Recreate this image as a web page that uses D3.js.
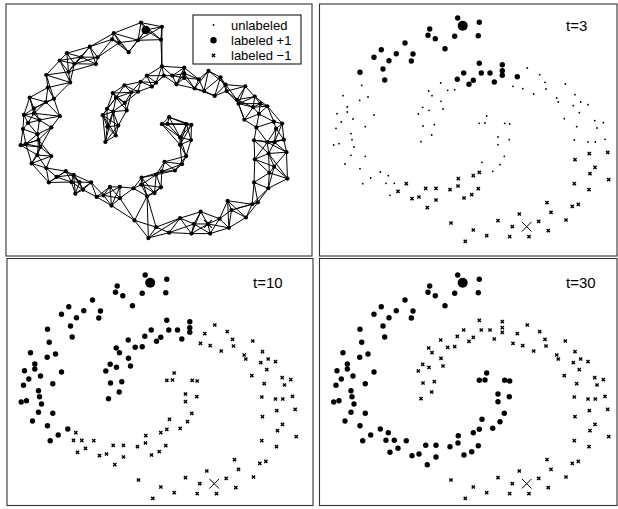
<!DOCTYPE html>
<html>
<head>
<meta charset="utf-8">
<script src="https://cdn.jsdelivr.net/npm/d3@7"></script>
<style>
  body { margin: 0; background: #fff; }
  svg { display: block; font-family: "Liberation Sans", Arial, Helvetica, sans-serif; }
</style>
</head>
<body>
<svg id="chart" width="618" height="509"></svg>
<script>
// two-spiral data
// each row: x, y, label at t=3, label at t=10, label at t=30  (1 = +1, -1 = -1, 0 = unlabeled)
const nodes = [
  [-7.3,105,1,1,1],[-35.3,94,1,1,1],[-37,87.7,1,1,1],[-29.7,84.3,1,1,1],[-10.3,86.7,1,1,1],
  [-60,80,1,1,1],[-20,74.3,1,1,1],[-83.7,73.3,1,1,1],[-52,69,1,1,1],[-68.7,69.3,1,1,1],
  [-91,65.7,1,1,1],[-76,62.3,1,1,1],[-53.7,62,1,1,1],[-82,54,1,1,1],[-105,50.7,1,1,1],
  [-80.3,43,1,1,1],[-103.3,37.7,0,1,1],[-122,27.3,0,1,1],[-97,26,0,1,1],[-105.3,22.7,0,1,1],
  [-117.7,16,0,1,1],[-117.7,11,0,1,1],[-128,9.3,0,1,1],[-91,8,0,1,1],[-112,4,0,1,1],
  [-123.7,1,0,1,1],[-129,-5.3,0,1,1],[-99.7,-3.7,0,1,1],[-114,-10.7,0,1,1],[-113,-16.7,0,1,1],
  [-126,-20.7,0,1,1],[-131.3,-22,0,1,1],[-111,-24,0,1,1],[-114,-32.3,0,1,1],[-99.7,-33.3,0,1,1],
  [-120,-41,0,1,1],[-105,-45.7,0,1,1],[-84.7,-49,0,1,1],[-76.7,-52.7,0,-1,1],[-94.3,-55,0,1,1],
  [-102.3,-60.7,0,1,1],[-79,-60.3,0,-1,1],[-70.7,-60.3,0,-1,1],[-58.7,-60.7,-1,-1,1],[-67,-68.3,-1,-1,1],
  [-75,-72.3,0,-1,1],[-39.3,-65.3,-1,-1,1],[-29,-65.3,-1,-1,1],[-46,-74,-1,-1,1],[-53,-75.7,-1,-1,1],
  [-29,-77,-1,-1,1],[-37.7,-84.7,-1,-1,1],[-15,-66.7,-1,-1,1],[-6.7,-55.7,-1,-1,1],[-7,-63,-1,-1,1],
  [-1,-75,-1,-1,1],
  [14.3,100.7,1,1,1],[13.3,87.3,1,1,1],[21.7,7,0,-1,1],[14.3,-0.3,0,-1,1],[20,0,0,-1,1],
  [39.7,-0.3,0,-1,1],[44.7,-1,0,-1,1],[33,-14,0,-1,1],[33,-21.7,0,-1,1],[44.3,-16.7,0,-1,1],
  [39.3,-33.3,0,-1,1],[17,-39.3,0,-1,1],[35,-41.7,0,-1,1],[14.3,-49.3,-1,-1,1],[8.3,-52.7,-1,-1,1],
  [27.7,-48.3,0,-1,1],[13.3,-65.7,-1,-1,1],[6.7,-71.7,-1,-1,1],
  [-1.3,50,1,1,-1],[-24.3,40,0,1,-1],[-7.7,43.7,1,1,-1],[-36.3,32,0,1,-1],[-33,27.3,0,1,-1],
  [-17.3,32.7,0,1,-1],[-10.3,33.3,0,1,-1],[-24,21.7,0,1,-1],[-42.3,15.7,0,1,-1],[-36,12.7,0,1,-1],
  [-22,14,0,1,-1],[-46.7,9,0,1,-1],[-42,-3,0,1,-1],[-30.7,-1.7,0,1,-1],[-33.3,-12,0,1,-1],
  [-44,-18.7,0,1,-1],[-14,-100,-1,-1,-1],
  [14.3,59.7,1,1,-1],[8.3,42.7,1,1,-1],[4,38.7,1,1,-1],[16.3,50,1,1,-1],[25,50,1,1,-1],
  [29.3,41,1,1,-1],[37.3,58.3,1,1,-1],[37.3,52.3,1,1,-1],[37.3,47.7,1,1,-1],[52.3,46.3,1,-1,-1],
  [62.3,55,0,-1,-1],[48,36.7,0,-1,-1],[57.7,34.3,0,-1,-1],[74.7,48.3,0,-1,-1],[80,40.7,0,-1,-1],
  [81,34,0,-1,-1],[68.7,29,0,-1,-1],[100.3,39,0,-1,-1],[91.7,25,0,-1,-1],[93.3,21,0,-1,-1],
  [110,28.3,0,-1,-1],[108.3,17.3,0,-1,-1],[115.7,21,0,-1,-1],[123,18.3,0,-1,-1],[114.3,10.3,0,-1,-1],
  [99.3,4.3,0,-1,-1],[111.7,-3.7,0,-1,-1],[129.7,2.3,0,-1,-1],[138.3,0.3,0,-1,-1],[132,-5,0,-1,-1],
  [109.3,-17,0,-1,-1],[123,-19,0,-1,-1],[130.3,-19,0,-1,-1],[140,-16.3,0,-1,-1],[124.3,-30.7,-1,-1,-1],
  [142.7,-29.3,-1,-1,-1],[110,-36.7,-1,-1,-1],[130,-44.3,-1,-1,-1],[125,-50.7,-1,-1,-1],[143.7,-56.7,-1,-1,-1],
  [109.3,-60.7,-1,-1,-1],[124,-66.7,-1,-1,-1],[82,-79.7,-1,-1,-1],[86,-89.3,-1,-1,-1],[107.3,-83.3,-1,-1,-1],
  [113.3,-81.3,-1,-1,-1],[101,-97,-1,-1,-1],[54.3,-91,-1,-1,-1],[73.7,-98.3,-1,-1,-1],[33,-97.7,-1,-1,-1],
  [47.3,-103.7,-1,-1,-1],[83.3,-107.7,-1,-1,-1],[8.3,-107,-1,-1,-1],[21.7,-112.7,-1,-1,-1],[44.7,-113.7,-1,-1,-1],
  [64,-113.7,-1,-1,-1],[0.3,-118.3,-1,-1,-1]
];
const seedPlus = [-2.3, 97.3];
const seedMinus = [61.7, -103.7];
const steps = ["t=3", "t=10", "t=30"];
const legendLabels = ["unlabeled", "labeled +1", "labeled \u22121"];
const kNeighbours = 5;

const xDomain = [-150, 150], yDomain = [-125, 125];

const panels = [
  {frame: [6, 4, 312, 256],          xr: [2.55, 293.55], yr: [244.5, 3.3], graph: true},
  {frame: [319.5, 4, 617, 256],      xr: [315, 615],     yr: [248, -2],    step: 0, tx: 566, ty: 31},
  {frame: [7, 258.5, 313, 505.5],    xr: [2.5, 302.5],   yr: [505, 255],   step: 1, tx: 253, ty: 288},
  {frame: [319.5, 258.5, 617, 505.5], xr: [315, 615],    yr: [505, 255],   step: 2, tx: 566, ty: 288}
];

const svg = d3.select("#chart");

function cross(g, x, y, s, w) {
  g.append("path")
    .attr("d", `M${x - s},${y - s}L${x + s},${y + s}M${x - s},${y + s}L${x + s},${y - s}`)
    .attr("stroke", "#000")
    .attr("stroke-width", w)
    .attr("fill", "none");
}

function marker(g, x, y, lab) {
  if (lab === 0) {
    g.append("circle").attr("cx", x).attr("cy", y).attr("r", 0.9).attr("fill", "#000");
  } else if (lab === 1) {
    g.append("circle").attr("cx", x).attr("cy", y).attr("r", 2.7).attr("fill", "#000");
  } else {
    cross(g, x, y, 1.6, 1.4);
  }
}

// k nearest neighbour graph for the first panel
const all = nodes.map(d => [d[0], d[1]]).concat([seedPlus, seedMinus]);
const edgeKeys = new Set();
const edges = [];
all.forEach((p, i) => {
  all.map((q, j) => ({j: j, d: (p[0] - q[0]) ** 2 + (p[1] - q[1]) ** 2}))
    .filter(o => o.j !== i)
    .sort((a, b) => a.d - b.d)
    .slice(0, kNeighbours)
    .forEach(o => {
      const key = Math.min(i, o.j) + "-" + Math.max(i, o.j);
      if (!edgeKeys.has(key)) { edgeKeys.add(key); edges.push([i, o.j]); }
    });
});

panels.forEach(p => {
  const x = d3.scaleLinear().domain(xDomain).range(p.xr);
  const y = d3.scaleLinear().domain(yDomain).range(p.yr);
  const g = svg.append("g");

  g.append("rect")
    .attr("x", p.frame[0]).attr("y", p.frame[1])
    .attr("width", p.frame[2] - p.frame[0]).attr("height", p.frame[3] - p.frame[1])
    .attr("fill", "none").attr("stroke", "#333").attr("stroke-width", 1.1);

  if (p.graph) {
    g.append("g").selectAll("line")
      .data(edges)
      .enter()
      .append("line")
      .attr("x1", d => x(all[d[0]][0])).attr("y1", d => y(all[d[0]][1]))
      .attr("x2", d => x(all[d[1]][0])).attr("y2", d => y(all[d[1]][1]))
      .attr("stroke", "#000").attr("stroke-width", 1);
    g.append("g").selectAll("circle")
      .data(all)
      .enter()
      .append("circle")
      .attr("cx", d => x(d[0])).attr("cy", d => y(d[1]))
      .attr("r", 2.1).attr("fill", "#000");
    g.append("circle").attr("cx", x(seedPlus[0])).attr("cy", y(seedPlus[1])).attr("r", 4.3).attr("fill", "#000");
    cross(g, x(seedMinus[0]), y(seedMinus[1]), 4, 1.1);

    // legend
    const lg = g.append("g");
    lg.append("rect").attr("x", 193).attr("y", 15).attr("width", 108).attr("height", 49)
      .attr("fill", "#fff").attr("stroke", "#000").attr("stroke-width", 1);
    [0, 1, -1].forEach((lab, i) => {
      const cy = 25 + i * 15.2;
      if (lab === 1) lg.append("circle").attr("cx", 213.5).attr("cy", cy).attr("r", 3.2).attr("fill", "#000");
      else marker(lg, 213.5, cy, lab);
      lg.append("text").attr("x", 231).attr("y", cy).attr("dy", "0.35em")
        .style("font-size", "13px").text(legendLabels[i]);
    });
  } else {
    const order = nodes.slice().sort((a, b) => Math.abs(a[2 + p.step]) - Math.abs(b[2 + p.step]));
    order.forEach(d => marker(g, x(d[0]), y(d[1]), d[2 + p.step]));
    g.append("circle").attr("cx", x(seedPlus[0])).attr("cy", y(seedPlus[1])).attr("r", 5).attr("fill", "#000");
    cross(g, x(seedMinus[0]), y(seedMinus[1]), 4.8, 1);
    g.append("text").attr("x", p.tx).attr("y", p.ty)
      .style("font-size", "15px").text(steps[p.step]);
  }
});
</script>
</body>
</html>
